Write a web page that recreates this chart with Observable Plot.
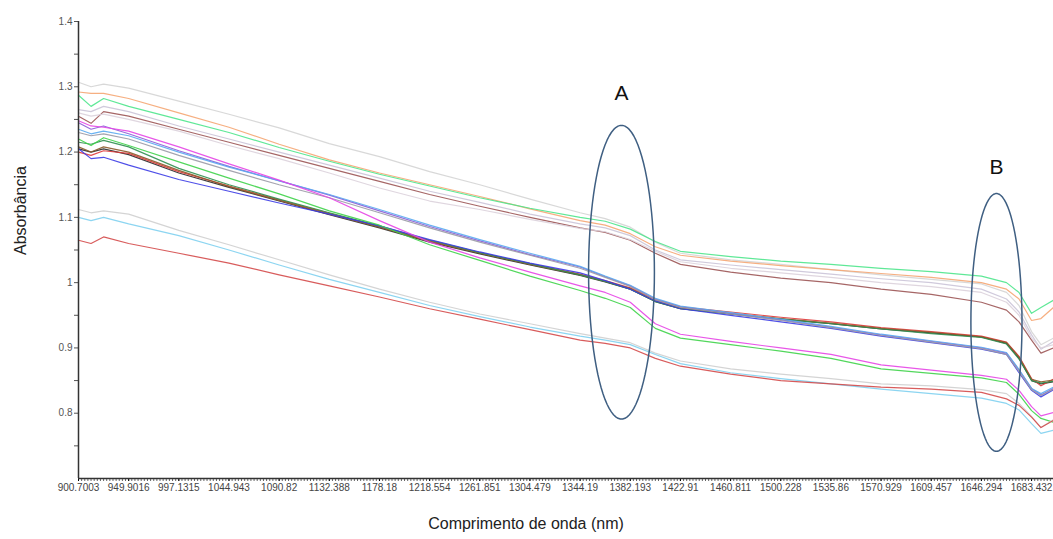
<!DOCTYPE html>
<html>
<head>
<meta charset="utf-8">
<script src="https://cdn.jsdelivr.net/npm/d3@7"></script>
<script src="https://cdn.jsdelivr.net/npm/@observablehq/plot@0.6"></script>
<style>
  html, body { margin: 0; padding: 0; background: #fff; }
  #chart svg { display: block; }
</style>
</head>
<body>
<div id="chart"></div>
<script>
// Wavelength tick labels (one every 16 samples)
const xTickLabels = ["900.7003","949.9016","997.1315","1044.943","1090.82","1132.388","1178.18","1218.554","1261.851","1304.479","1344.19","1382.193","1422.91","1460.811","1500.228","1535.86","1570.929","1609.457","1646.294","1683.432"];
const samplesPerLabel = 16;
const lastSample = 311;

// Axis titles
const xTitle = "Comprimento de onda (nm)";
const yTitle = "Absorbância";

// Sample indices at which values were read
const sampleIndex = [0,4,8,16,32,48,64,80,96,112,128,144,160,168,176,184,192,208,224,240,256,272,288,296,300,304,307,311];

// Absorbance spectra
const grayTop   = [1.307,1.300,1.304,1.298,1.278,1.258,1.237,1.213,1.193,1.170,1.150,1.128,1.107,1.098,1.085,1.062,1.045,1.035,1.028,1.020,1.012,1.005,0.998,0.985,0.965,0.925,0.905,0.915];
const orange    = [1.292,1.290,1.290,1.282,1.260,1.238,1.212,1.188,1.168,1.150,1.132,1.113,1.095,1.088,1.075,1.055,1.042,1.033,1.026,1.020,1.014,1.008,1.000,0.990,0.975,0.942,0.945,0.962];
const springGreen = [1.287,1.270,1.282,1.270,1.250,1.230,1.207,1.186,1.166,1.148,1.130,1.114,1.100,1.094,1.082,1.063,1.048,1.040,1.033,1.028,1.022,1.017,1.010,1.000,0.985,0.953,0.962,0.973];
const lavender  = [1.265,1.262,1.270,1.262,1.240,1.220,1.200,1.180,1.160,1.140,1.123,1.105,1.090,1.084,1.072,1.050,1.035,1.027,1.020,1.013,1.006,1.000,0.990,0.975,0.955,0.920,0.898,0.910];
const maroon    = [1.255,1.244,1.262,1.255,1.235,1.215,1.195,1.175,1.155,1.135,1.117,1.100,1.084,1.077,1.065,1.045,1.028,1.016,1.007,1.000,0.990,0.982,0.970,0.958,0.940,0.912,0.892,0.900];
const paleGray  = [1.260,1.255,1.258,1.250,1.232,1.210,1.190,1.168,1.145,1.125,1.112,1.097,1.083,1.078,1.066,1.048,1.032,1.022,1.015,1.008,1.000,0.994,0.985,0.970,0.950,0.915,0.900,0.905];
const black     = [1.205,1.200,1.205,1.196,1.168,1.146,1.125,1.104,1.084,1.062,1.044,1.027,1.011,1.001,0.990,0.971,0.960,0.952,0.944,0.937,0.929,0.923,0.917,0.907,0.884,0.850,0.845,0.848];
const red       = [1.200,1.195,1.202,1.198,1.170,1.148,1.127,1.106,1.086,1.064,1.046,1.029,1.013,1.003,0.992,0.974,0.963,0.955,0.947,0.940,0.931,0.925,0.918,0.909,0.887,0.853,0.842,0.852];
const brown     = [1.208,1.200,1.208,1.200,1.172,1.147,1.126,1.105,1.085,1.063,1.045,1.028,1.012,1.002,0.991,0.972,0.961,0.953,0.945,0.938,0.930,0.924,0.917,0.908,0.886,0.852,0.848,0.851];
const darkGreen = [1.215,1.212,1.218,1.208,1.175,1.150,1.128,1.107,1.087,1.065,1.046,1.029,1.012,1.002,0.990,0.971,0.960,0.952,0.944,0.937,0.929,0.922,0.916,0.906,0.883,0.850,0.846,0.849];
const blue      = [1.205,1.190,1.192,1.180,1.158,1.140,1.122,1.105,1.087,1.066,1.047,1.030,1.015,1.003,0.990,0.972,0.960,0.950,0.940,0.930,0.918,0.908,0.898,0.890,0.862,0.835,0.825,0.836];
const purple    = [1.245,1.235,1.240,1.228,1.202,1.178,1.156,1.134,1.110,1.086,1.064,1.043,1.024,1.009,0.995,0.975,0.963,0.953,0.943,0.932,0.920,0.910,0.900,0.892,0.866,0.838,0.828,0.838];
const lightBlue = [1.235,1.228,1.232,1.225,1.200,1.177,1.156,1.135,1.112,1.088,1.066,1.045,1.025,1.010,0.996,0.976,0.964,0.954,0.944,0.933,0.921,0.911,0.901,0.893,0.867,0.838,0.830,0.840];
const grayMid   = [1.230,1.225,1.228,1.220,1.195,1.172,1.150,1.130,1.107,1.084,1.062,1.042,1.022,1.008,0.994,0.974,0.962,0.952,0.942,0.931,0.919,0.909,0.899,0.890,0.864,0.836,0.827,0.837];
const magenta   = [1.248,1.240,1.238,1.232,1.208,1.182,1.157,1.130,1.095,1.062,1.038,1.016,0.995,0.985,0.970,0.937,0.921,0.910,0.900,0.890,0.874,0.866,0.858,0.852,0.835,0.810,0.796,0.801];
const green     = [1.220,1.210,1.222,1.210,1.185,1.160,1.136,1.110,1.088,1.058,1.034,1.010,0.988,0.976,0.962,0.930,0.915,0.905,0.895,0.884,0.868,0.861,0.854,0.847,0.829,0.804,0.792,0.786];
const grayLow   = [1.112,1.107,1.110,1.105,1.080,1.058,1.035,1.012,0.990,0.970,0.952,0.937,0.922,0.915,0.908,0.892,0.880,0.868,0.860,0.853,0.845,0.842,0.836,0.830,0.815,0.795,0.778,0.790];
const cyan      = [1.100,1.095,1.100,1.090,1.072,1.050,1.027,1.005,0.985,0.965,0.948,0.932,0.918,0.912,0.905,0.890,0.876,0.862,0.853,0.845,0.837,0.830,0.823,0.815,0.805,0.784,0.769,0.774];
const redLow    = [1.065,1.060,1.070,1.060,1.045,1.030,1.012,0.995,0.978,0.960,0.944,0.928,0.912,0.907,0.900,0.884,0.872,0.860,0.850,0.845,0.840,0.837,0.832,0.822,0.812,0.794,0.778,0.789];

const seriesNames  = ["grayTop","orange","springGreen","lavender","maroon","paleGray","black","red","brown","darkGreen","blue","purple","lightBlue","grayMid","magenta","green","grayLow","cyan","redLow"];
const seriesValues = [grayTop,orange,springGreen,lavender,maroon,paleGray,black,red,brown,darkGreen,blue,purple,lightBlue,grayMid,magenta,green,grayLow,cyan,redLow];
const seriesColors = ["#d4d4d4","#f5a673","#4ee68c","#cbc4d8","#9c5555","#dcd2dc","#2b2b2b","#e03a3a","#8a5a2a","#2f8f4f","#3c3ce6","#8c5cd8","#5aaaf0","#9a9aa6","#e545e5","#3fd34a","#cfcfcf","#7fd0f0","#d44a4a"];

// Y axis ticks
const yTickValues = [0.8, 0.9, 1, 1.1, 1.2, 1.3, 1.4];
const yMinorTicks = [0.75, 0.85, 0.95, 1.05, 1.15, 1.25, 1.35];

// Annotations (data units: sample index, absorbance)
const annotations = [
  {label: "A", cx: 173.2, cy: 1.016, rx: 10.5, ry: 0.225, ly: 1.29},
  {label: "B", cx: 292.8, cy: 0.939, rx: 8.15, ry: 0.1975, ly: 1.176}
];

const rows = [];
seriesNames.forEach((name, s) => {
  seriesValues[s].forEach((v, i) => rows.push({series: name, idx: sampleIndex[i], value: v}));
});

const ellipsePts = [];
annotations.forEach(a => {
  d3.range(0, 361, 4).forEach(deg => {
    const t = deg * Math.PI / 180;
    ellipsePts.push({label: a.label, x: a.cx + a.rx * Math.cos(t), y: a.cy + a.ry * Math.sin(t)});
  });
});

const labelTicks = xTickLabels.map((_, k) => k * samplesPerLabel);

const chart = Plot.plot({
  width: 1053,
  height: 539,
  marginLeft: 78,
  marginRight: 0,
  marginTop: 21,
  marginBottom: 61,
  style: {fontFamily: "'Liberation Sans', Arial, sans-serif", background: "#fff"},
  x: {domain: [0, lastSample]},
  y: {domain: [0.7, 1.4]},
  color: {domain: seriesNames, range: seriesColors},
  marks: [
    Plot.line(rows, {x: "idx", y: "value", z: "series", stroke: "series", strokeWidth: 1.2, strokeOpacity: 0.9}),
    Plot.line(ellipsePts, {x: "x", y: "y", z: "label", stroke: "#3f5f82", strokeWidth: 1.5}),
    Plot.text(annotations, {x: "cx", y: "ly", text: "label", fontSize: 21, fill: "#111"}),
    Plot.axisX({ticks: d3.range(0, lastSample + 1), tickSize: 3, stroke: "#666", tickFormat: null, label: null, text: null}),
    Plot.axisX({ticks: labelTicks, tickSize: 3, tickPadding: 2, fontSize: 10, fill: "#444",
      tickFormat: i => xTickLabels[Math.round(i / samplesPerLabel)], label: null}),
    Plot.axisY({ticks: yMinorTicks, tickSize: 4, stroke: "#555", tickFormat: null, text: null, label: null}),
    Plot.axisY({ticks: yTickValues, tickSize: 4, tickPadding: 2, fontSize: 10, fill: "#555", stroke: "#555",
      tickFormat: d => String(d), label: null}),
    Plot.text([xTitle], {frameAnchor: "bottom", dx: -40, dy: 50, fontSize: 16, fill: "#222"}),
    Plot.text([yTitle], {frameAnchor: "left", dx: -58, dy: 5, rotate: -90, fontSize: 16, fill: "#222"}),
    Plot.ruleX([0], {stroke: "#333", strokeWidth: 1.5}),
    Plot.ruleY([0.7], {stroke: "#333", strokeWidth: 1.5})
  ]
});

document.getElementById("chart").appendChild(chart);
</script>
</body>
</html>
